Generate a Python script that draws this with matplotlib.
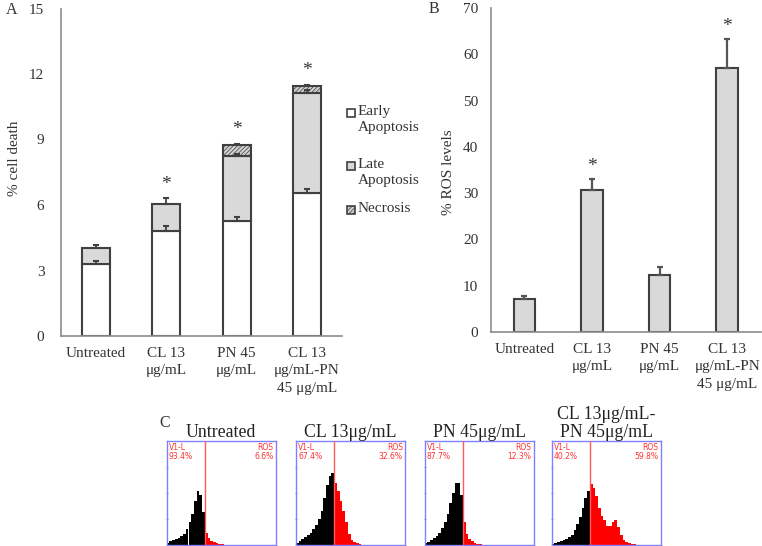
import matplotlib
matplotlib.use("Agg")
import matplotlib.pyplot as plt
from matplotlib.patches import Rectangle
import numpy as np

plt.rcParams['font.family'] = ['Liberation Serif', 'DejaVu Serif']
plt.rcParams['hatch.linewidth'] = 0.5

# ---------------- data ----------------
categories = ["Untreated", "CL 13\nμg/mL", "PN 45\nμg/mL", "CL 13\nμg/mL-PN\n45 μg/mL"]

# Panel A (% cell death, stacked)
early = [3.28, 4.81, 5.29, 6.55]
early_err = [0.15, 0.25, 0.16, 0.17]
late = [0.77, 1.24, 2.94, 4.56]
late_err = [0.12, 0.27, 0.12, 0.14]
necrosis = [0.0, 0.0, 0.50, 0.35]
necrosis_err = [0.0, 0.0, 0.08, 0.05]
sig_a = [False, True, True, True]
legend_labels = ["Early\nApoptosis", "Late\nApoptosis", "Necrosis"]

# Panel B (% ROS levels)
ros = [7.1, 30.7, 12.3, 57.0]
ros_err = [0.6, 2.3, 1.7, 6.2]
sig_b = [False, True, False, True]

# Panel C (flow cytometry histograms)
hist_titles = ["Untreated", "CL 13μg/mL", "PN 45μg/mL", "CL 13μg/mL-\nPN 45μg/mL"]
left_pct = ["93.4%", "67.4%", "87.7%", "40.2%"]
right_pct = ["6.6%", "32.6%", "12.3%", "59.8%"]
gate = 0.35
bin_width = 0.025
hist_untreated = [0.02, 0.04, 0.05, 0.06, 0.07, 0.09, 0.11, 0.15, 0.22, 0.30, 0.42, 0.52, 0.48, 0.32,
                  0.12, 0.07, 0.04, 0.025, 0.015, 0.01, 0.005, 0.0]
hist_cl = [0.02, 0.04, 0.06, 0.08, 0.10, 0.12, 0.15, 0.19, 0.25, 0.33, 0.45, 0.58, 0.66, 0.69,
           0.60, 0.52, 0.42, 0.33, 0.22, 0.11, 0.05, 0.03, 0.015, 0.008, 0.004, 0.0]
hist_pn = [0.02, 0.03, 0.05, 0.07, 0.09, 0.12, 0.16, 0.22, 0.30, 0.40, 0.50, 0.60, 0.60, 0.48,
           0.22, 0.11, 0.06, 0.035, 0.02, 0.01, 0.005, 0.0]
hist_combo = [0.01, 0.02, 0.03, 0.04, 0.05, 0.06, 0.08, 0.10, 0.14, 0.20, 0.27, 0.36, 0.45, 0.52,
              0.59, 0.55, 0.47, 0.36, 0.28, 0.24, 0.18, 0.18, 0.22, 0.24, 0.17, 0.10, 0.05, 0.03,
              0.02, 0.01, 0.005, 0.0]
histograms = [hist_untreated, hist_cl, hist_pn, hist_combo]

# ---------------- figure ----------------
W, H = 762, 546
fig = plt.figure(figsize=(W / 100, H / 100), dpi=100)


def px_axes(x0, y0, x1, y1):
    return fig.add_axes([x0 / W, 1 - y1 / H, (x1 - x0) / W, (y1 - y0) / H])


txt_col = '#333333'
edge_col = '#404040'
spine_col = '#8c8c8c'

# ---------- Panel A ----------
axA = px_axes(61, 8.5, 342, 336)
x = np.arange(len(categories))
bw = 0.4
bar_styles = [dict(color='white', edgecolor=edge_col, linewidth=1.5),
              dict(color='#d9d9d9', edgecolor=edge_col, linewidth=1.5),
              dict(color='#d0d0d0', edgecolor=edge_col, hatch='////////', linewidth=1.5)]
axA.bar(x, early, bw, zorder=2, **bar_styles[0])
bot2 = np.array(early)
axA.bar(x, late, bw, bottom=bot2, zorder=2, **bar_styles[1])
bot3 = bot2 + np.array(late)
nec_idx = [i for i in range(len(x)) if necrosis[i] > 0]
axA.bar(x[nec_idx], np.array(necrosis)[nec_idx], bw, bottom=bot3[nec_idx], zorder=2, **bar_styles[2])
# upward error bars
eb = dict(fmt='none', ecolor=edge_col, elinewidth=1.3, capsize=2.5, capthick=1.5, zorder=3)
axA.errorbar(x, early, yerr=[np.zeros(4), early_err], **eb)
axA.errorbar(x, bot3, yerr=[np.zeros(4), late_err], **eb)
tot = bot3 + np.array(necrosis)
axA.errorbar(x[nec_idx], tot[nec_idx], yerr=[np.zeros(len(nec_idx)), np.array(necrosis_err)[nec_idx]], **eb)
top_err = np.maximum(bot3 + np.array(late_err), tot + np.array(necrosis_err))
for i in range(len(x)):
    if sig_a[i]:
        axA.text(x[i], top_err[i] + 0.25, "*", ha='center', va='bottom', fontsize=14, color=txt_col)
axA.set_xlim(-0.5, 3.5)
axA.set_ylim(0, 15)
axA.set_yticks([0, 3, 6, 9, 12, 15])
axA.set_xticks(x)
axA.set_xticklabels(categories, fontsize=10.3, color=txt_col, linespacing=1.42, va='top')
axA.tick_params(axis='both', length=0, labelsize=11, colors=txt_col)
axA.tick_params(axis='y', pad=12)
axA.tick_params(axis='x', pad=8)
for s in ['top', 'right']:
    axA.spines[s].set_visible(False)
for s in ['left', 'bottom']:
    axA.spines[s].set_color(spine_col)
    axA.spines[s].set_linewidth(1.2)

# legend (marker aligned with first text line, as in the original)
leg_first_y = [113, 166, 210]
for lbl, st, ly in zip(legend_labels, bar_styles, leg_first_y):
    sq = 8
    fig.patches.append(Rectangle(((347) / W, 1 - (ly + sq / 2) / H), sq / W, sq / H,
                                 transform=fig.transFigure, facecolor=st['color'],
                                 edgecolor=edge_col, linewidth=1.2, hatch=st.get('hatch')))
    fig.text(358 / W, 1 - (ly - 8) / H, lbl, ha='left', va='top', fontsize=11, color=txt_col,
             linespacing=1.25)

fig.text(15 / W, 1 - 158 / H, "% cell death", rotation=90, ha='center', va='center', fontsize=11,
         color=txt_col)
fig.text(12 / W, 1 - 10 / H, "A", ha='center', va='center', fontsize=11.5, color=txt_col)

# ---------- Panel B ----------
axB = px_axes(490.7, 8, 761, 332)
bwB = 0.32
axB.bar(x, ros, bwB, color='#d9d9d9', edgecolor=edge_col, linewidth=1.5, zorder=2)
axB.errorbar(x, ros, yerr=[np.zeros(4), ros_err], fmt='none', ecolor='#555555', elinewidth=1.6,
             capsize=2, capthick=1.6, zorder=3)
for i in range(len(x)):
    if sig_b[i]:
        axB.text(x[i], ros[i] + ros_err[i] + 1.0, "*", ha='center', va='bottom', fontsize=14, color=txt_col)
axB.set_xlim(-0.5, 3.5)
axB.set_ylim(0, 70)
axB.set_yticks(np.arange(0, 71, 10))
axB.set_xticks(x)
axB.set_xticklabels(categories, fontsize=10.3, color=txt_col, linespacing=1.42, va='top')
axB.tick_params(axis='both', length=0, labelsize=11, colors=txt_col)
axB.tick_params(axis='y', pad=9)
axB.tick_params(axis='x', pad=8)
for s in ['top', 'right']:
    axB.spines[s].set_visible(False)
for s in ['left', 'bottom']:
    axB.spines[s].set_color(spine_col)
    axB.spines[s].set_linewidth(1.2)
fig.text(448 / W, 1 - 172 / H, "% ROS levels", rotation=90, ha='center', va='center', fontsize=11,
         color=txt_col)
fig.text(434 / W, 1 - 9 / H, "B", ha='center', va='center', fontsize=11.5, color=txt_col)

# ---------- Panel C ----------
box_lefts = [166.7, 296, 424.7, 551.7]
box_w = 109
for k, (bl, hist) in enumerate(zip(box_lefts, histograms)):
    ax = px_axes(bl, 441, bl + box_w, 545)
    h = np.array(hist)
    centers = bin_width / 2 + bin_width * np.arange(len(h))
    cols = ['black' if c < gate else '#ff0000' for c in centers]
    ax.bar(centers, h, bin_width, color=cols, linewidth=0, zorder=2)
    ax.axvline(gate, color='#ff5a5a', lw=1.0, zorder=3)
    ax.set_xlim(0, 1)
    ax.set_ylim(0, 1)
    ax.set_xticks([])
    ax.set_yticks([0.25, 0.5, 0.75])
    ax.set_yticklabels([])
    ax.tick_params(axis='y', length=2, direction='inout', color='#8080ff', width=0.6)
    for s in ax.spines.values():
        s.set_color('#8080ff')
        s.set_linewidth(1.0)
    ax.text(0.02, 0.98, "V1-L\n" + left_pct[k], transform=ax.transAxes, ha='left', va='top',
            fontsize=5.5, color='#ff3030', family='DejaVu Sans', linespacing=1.0)
    ax.text(0.98, 0.98, "ROS\n" + right_pct[k], transform=ax.transAxes, ha='right', va='top',
            fontsize=5.5, color='#ff3030', family='DejaVu Sans', linespacing=1.0)
    ax.set_title(hist_titles[k], fontsize=12.8, color='#222222', pad=2, linespacing=1.1)

fig.text(165 / W, 1 - 423 / H, "C", ha='center', va='center', fontsize=11.5, color=txt_col)

fig.savefig("out.png", dpi=100)
